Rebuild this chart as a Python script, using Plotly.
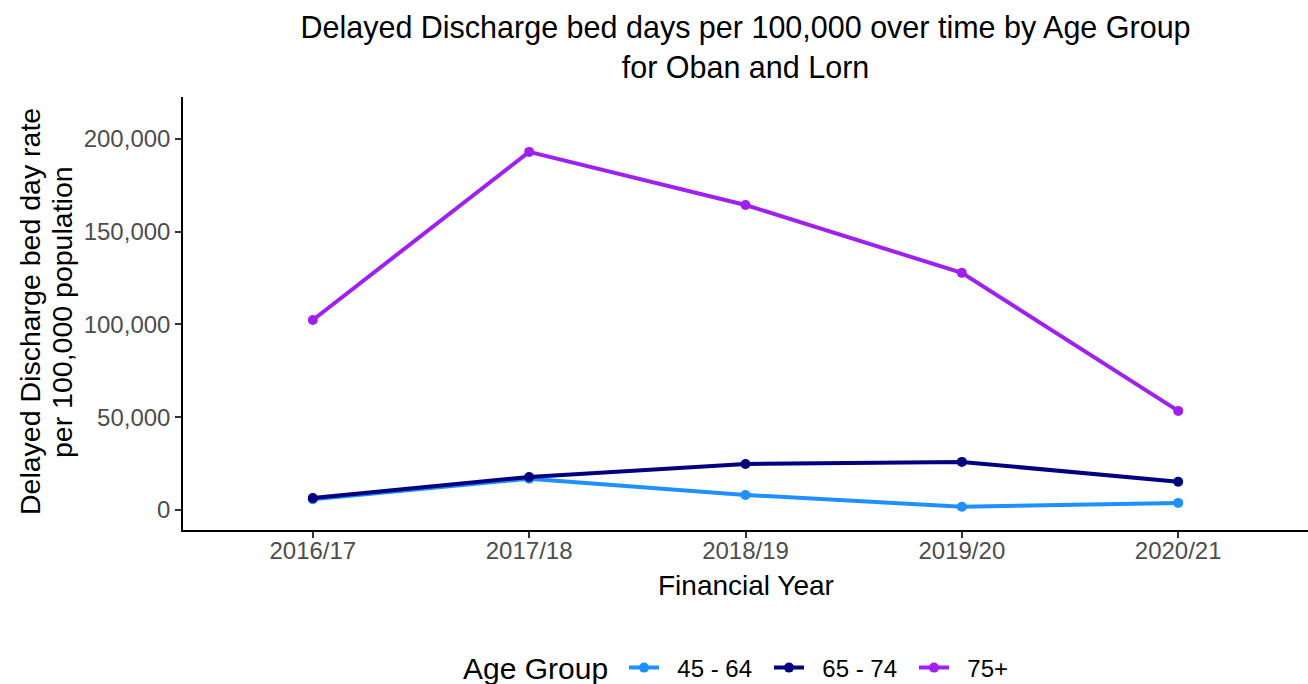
import plotly.graph_objects as go

years = ["2016/17", "2017/18", "2018/19", "2019/20", "2020/21"]
age_groups = ["45 - 64", "65 - 74", "75+"]
vals_45_64 = [5800, 16800, 8100, 1700, 3800]
vals_65_74 = [6400, 17800, 24800, 25900, 15200]
vals_75p = [102400, 193000, 164400, 127800, 53400]
colors = ["#1E90FF", "#000080", "#A020F0"]
y_ticks = [0, 50000, 100000, 150000, 200000]
y_ticklabels = ["0", "50,000", "100,000", "150,000", "200,000"]

series = [vals_45_64, vals_65_74, vals_75p]

fig = go.Figure()
for name, vals, col in zip(age_groups, series, colors):
    fig.add_trace(go.Scatter(
        x=list(range(len(years))), y=vals, name="\u00a0\u00a0" + name,
        mode="lines+markers",
        line=dict(color=col, width=4), marker=dict(color=col, size=10),
    ))

font_family = "Liberation Sans, Arial, sans-serif"
H_PLOT = 684 - 97 - 154
W_PLOT = 1308 - 183
fig.update_layout(
    width=1308, height=684,
    margin=dict(l=183, r=0, t=97, b=154, autoexpand=False),
    paper_bgcolor="white", plot_bgcolor="white",
    font=dict(family=font_family, color="black"),
    title=dict(
        text="Delayed Discharge bed days per 100,000 over time by Age Group<br>for Oban and Lorn",
        x=0.5, xref="paper", xanchor="center",
        y=1 - 38 / 684, yref="container", yanchor="middle",
        font=dict(size=30.5, color="black"),
    ),
    xaxis=dict(
        range=[-0.6, 4.6], tickmode="array", tickvals=list(range(len(years))),
        ticktext=years, showgrid=False, zeroline=False, automargin=False,
        showline=True, linecolor="black", linewidth=1.5,
        ticks="outside", ticklen=6, tickcolor="#333333", tickwidth=1.5,
        tickfont=dict(size=24, color="#4D4D4D"), ticklabelstandoff=-8,
    ),
    yaxis=dict(
        range=[-10800, 222600], tickmode="array", tickvals=y_ticks,
        ticktext=y_ticklabels, showgrid=False, zeroline=False, automargin=False,
        showline=True, linecolor="black", linewidth=1.5,
        ticks="outside", ticklen=6, tickcolor="#333333", tickwidth=1.5,
        tickfont=dict(size=24, color="#4D4D4D"),
    ),
    legend=dict(
        orientation="h", x=(624 - 183) / W_PLOT, xanchor="left",
        y=-(668 - 530) / H_PLOT, yref="paper",
        yanchor="middle", entrywidth=100,
        font=dict(size=24, color="black"),
    ),
    annotations=[
        dict(text="Age Group", xref="paper", yref="paper", x=(535 - 183) / W_PLOT,
             y=-(668 - 530) / H_PLOT, xanchor="center", yanchor="middle",
             showarrow=False, font=dict(size=30, color="black")),
        dict(text="Financial Year", xref="paper", yref="paper", x=0.5,
             y=-(585 - 530) / H_PLOT, xanchor="center", yanchor="middle",
             showarrow=False, font=dict(size=28, color="black")),
        dict(text="Delayed Discharge bed day rate",
             xref="paper", yref="paper", x=(30 - 183) / W_PLOT, y=(530 - 312) / H_PLOT,
             xanchor="center", yanchor="middle", textangle=-90, showarrow=False,
             font=dict(size=28.5, color="black")),
        dict(text="per 100,000 population",
             xref="paper", yref="paper", x=(62 - 183) / W_PLOT, y=(530 - 312) / H_PLOT,
             xanchor="center", yanchor="middle", textangle=-90, showarrow=False,
             font=dict(size=28.5, color="black")),
    ],
)

fig.write_html("out.html", config={"displayModeBar": False},
               post_script="document.body.style.margin='0';")
